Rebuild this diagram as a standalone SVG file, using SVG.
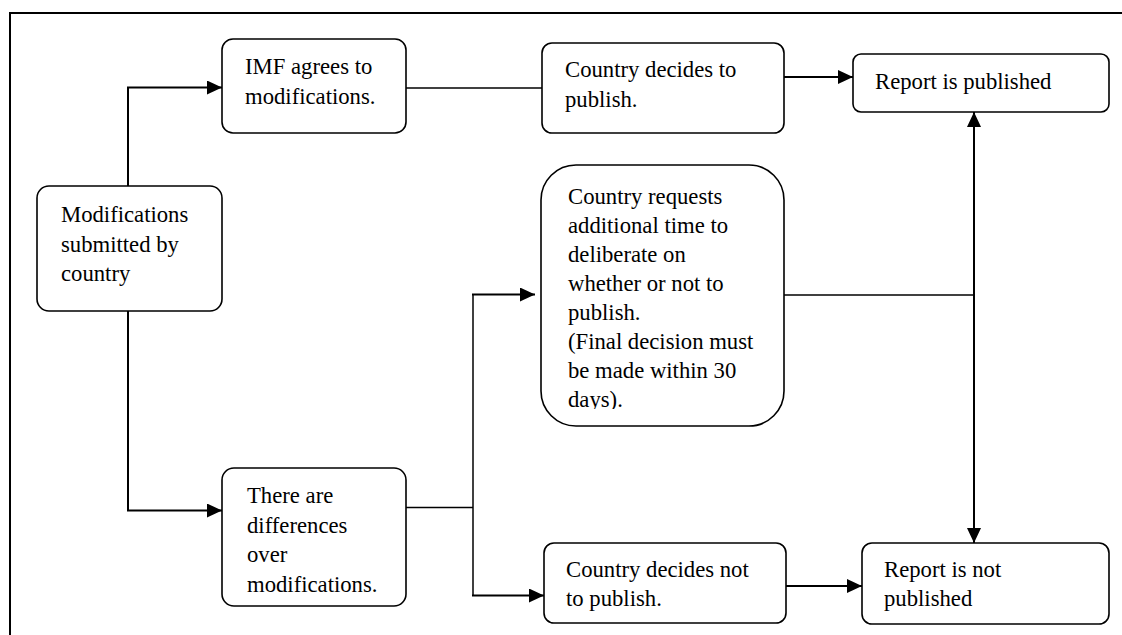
<svg xmlns="http://www.w3.org/2000/svg" width="1122" height="635" viewBox="0 0 1122 635">
<style>
.box{fill:#fff;stroke:#000;stroke-width:1.6}
.ln{fill:none;stroke:#000;stroke-width:1.5}
.ar{fill:none;stroke:#000;stroke-width:2;marker-end:url(#ah)}
.frame{fill:none;stroke:#000;stroke-width:2}
</style>
<defs>
<marker id="ah" viewBox="0 0 15 14" refX="15" refY="7" markerWidth="15" markerHeight="14" markerUnits="userSpaceOnUse" orient="auto">
<path d="M0,0 L15,7 L0,14 Z" fill="#000"/>
</marker>
<clipPath id="clipReq"><rect x="541" y="165" width="243" height="244"/></clipPath>
</defs>
<rect width="1122" height="635" fill="#fff"/>
<path class="frame" d="M10,635 V13 H1122"/>

<g id="connectors">
<path class="ar" d="M128,186 V87.5 H222"/>
<path class="ar" d="M128,311 V510.5 H222"/>
<path class="ln" d="M406,88 H542"/>
<path class="ar" d="M784,77 H853"/>
<path class="ln" d="M406,507.5 H473"/>
<path class="ln" d="M473,294.5 V595.5"/>
<path class="ar" d="M472,294.5 H535"/>
<path class="ar" d="M472,595.5 H544"/>
<path class="ln" d="M784,295 H974"/>
<path class="ar" d="M974,296 V112"/>
<path class="ar" d="M974,294 V543"/>
<path class="ar" d="M786,586 H862"/>
</g>

<g font-family="Liberation Serif, Times New Roman, serif" font-size="22.7" fill="#000">
<g id="n-modifications">
<rect class="box" x="37" y="186" width="185" height="125" rx="12"/>
<text x="61" y="222">Modifications</text>
<text x="61" y="251.5">submitted by</text>
<text x="61" y="280.5">country</text>
</g>

<g id="n-imf">
<rect class="box" x="222" y="39" width="184" height="94" rx="11"/>
<text x="245" y="73.5">IMF agrees to</text>
<text x="245" y="103.5">modifications.</text>
</g>

<g id="n-differences">
<rect class="box" x="222" y="468" width="184" height="138" rx="12"/>
<text x="247" y="503.3">There are</text>
<text x="247" y="532.7">differences</text>
<text x="247" y="562">over</text>
<text x="247" y="591.5">modifications.</text>
</g>

<g id="n-publish">
<rect class="box" x="542" y="43" width="242" height="90" rx="10"/>
<text x="565" y="77">Country decides to</text>
<text x="565" y="107">publish.</text>
</g>

<g id="n-request">
<rect class="box" x="541" y="165" width="243" height="261" rx="35"/>
<text x="568" clip-path="url(#clipReq)">
<tspan x="568" y="204">Country requests</tspan>
<tspan x="568" y="233">additional time to</tspan>
<tspan x="568" y="262">deliberate on</tspan>
<tspan x="568" y="291">whether or not to</tspan>
<tspan x="568" y="320">publish.</tspan>
<tspan x="568" y="349">(Final decision must</tspan>
<tspan x="568" y="378">be made within 30</tspan>
<tspan x="568" y="407">days).</tspan>
</text>
</g>

<g id="n-notpublish">
<rect class="box" x="544" y="543" width="242" height="80" rx="10"/>
<text x="566" y="577">Country decides not</text>
<text x="566" y="605.5">to publish.</text>
</g>

<g id="n-published">
<rect class="box" x="853" y="54" width="256" height="58" rx="8"/>
<text x="875" y="88.5">Report is published</text>
</g>

<g id="n-notpublished">
<rect class="box" x="862" y="543" width="247" height="81" rx="10"/>
<text x="884" y="577">Report is not</text>
<text x="884" y="605.5">published</text>
</g>
</g>
</svg>
